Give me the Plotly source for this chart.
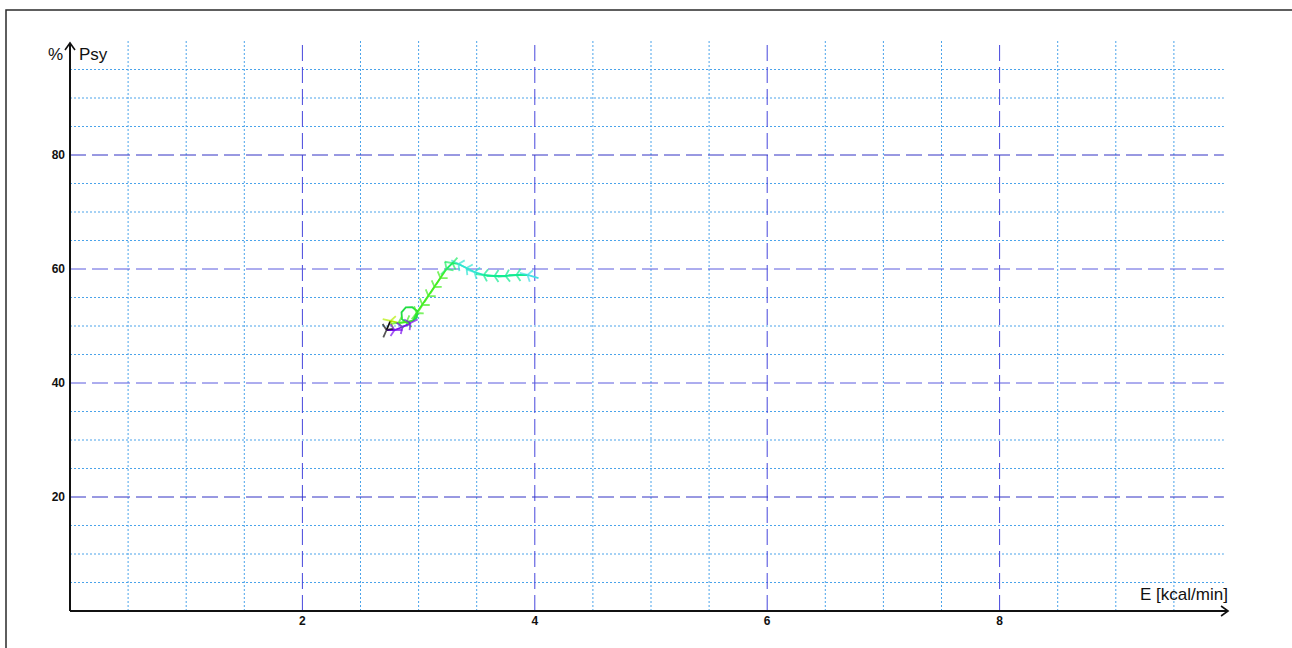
import plotly.graph_objects as go

# Trajectory of energy expenditure (E) versus psychological strain (Psy)
energy = [4.032, 3.937, 3.842, 3.748, 3.653, 3.559, 3.481, 3.412, 3.343, 3.292,
          3.240, 3.188, 3.137, 3.085, 3.034, 2.982,
          2.955, 2.900, 2.857, 2.853, 2.890, 2.945, 2.990, 2.985, 2.950,
          2.896, 2.827, 2.758, 2.724, 2.793, 2.861, 2.930]
psy = [58.42, 58.95, 58.95, 58.77, 58.77, 58.95, 59.47, 60.18, 60.88, 61.05,
       60.00, 58.42, 56.84, 55.26, 53.68, 52.28,
       51.00, 50.55, 51.20, 52.40, 53.25, 53.30, 52.60, 51.50, 50.90,
       50.70, 50.53, 50.88, 49.30, 49.30, 49.82, 50.53]
point_colors = ["#40dde6", "#40dde6", "#10ec92", "#10ec92", "#10ec92", "#10ec92",
                "#30e6d2", "#30e6d2", "#30e6d2", "#22ee66", "#22ee66", "#44ee22",
                "#44ee22", "#44ee22", "#44ee22", "#44ee22",
                "#22dd44", "#22dd44", "#22dd44", "#22dd44", "#22dd44", "#22dd44",
                "#22dd44", "#22dd44", "#22dd44",
                "#44ee22", "#44ee22", "#b4ee00", "#111111", "#7a10ee", "#7a10ee", "#7a10ee"]
arrow_sizes = [10, 10, 10, 10, 10, 10, 10, 10, 10, 10, 10, 10, 10, 10, 10, 10,
               0, 0, 0, 0, 0, 0, 0, 0, 0,
               10, 10, 10, 10, 10, 10, 10]

x_ticks = [2, 4, 6, 8]
y_ticks = [20, 40, 60, 80]
y_major_colors = ["#3232c4", "#5a5ade", "#5a5ade", "#3232c4"]
x_minor = [0.5, 1, 1.5, 2.5, 3, 3.5, 4.5, 5, 5.5, 6.5, 7, 7.5, 8.5, 9, 9.5]
y_minor = [5, 10, 15, 25, 30, 35, 45, 50, 55, 65, 70, 75, 85, 90, 95]

X_MAX, Y_MAX = 10, 100
GRID_END = 9.93

fig = go.Figure()

# Line segments, grouped by colour
segments = []
cur_color = point_colors[1]
cur = [0, 1]
for i in range(2, len(energy)):
    if point_colors[i] == cur_color:
        cur.append(i)
    else:
        segments.append((cur_color, cur))
        cur_color = point_colors[i]
        cur = [i - 1, i]
segments.append((cur_color, cur))

for color, idx in segments:
    fig.add_trace(go.Scatter(
        x=[energy[k] for k in idx], y=[psy[k] for k in idx],
        mode="lines", line=dict(color=color, width=1.8),
        hoverinfo="skip", showlegend=False))

# Direction chevrons along the path
fig.add_trace(go.Scatter(
    x=energy, y=psy, mode="markers",
    marker=dict(symbol="y-up", size=arrow_sizes, angleref="previous",
                color=point_colors,
                line=dict(color=point_colors, width=1.8)),
    hoverinfo="skip", showlegend=False))

shapes = []
minor_style = dict(color="#4aa3ea", width=1, dash="2px,2px")
for xv in x_minor:
    shapes.append(dict(type="line", xref="x", yref="y", x0=xv, x1=xv, y0=0, y1=Y_MAX,
                       line=minor_style, layer="below"))
for yv in y_minor:
    shapes.append(dict(type="line", xref="x", yref="y", x0=0, x1=GRID_END, y0=yv, y1=yv,
                       line=minor_style, layer="below"))
for xv in x_ticks:
    shapes.append(dict(type="line", xref="x", yref="y", x0=xv, x1=xv, y0=0, y1=Y_MAX,
                       line=dict(color="#4646dc", width=1, dash="16px,6px"), layer="below"))
for yv, col in zip(y_ticks, y_major_colors):
    shapes.append(dict(type="line", xref="x", yref="y", x0=0, x1=GRID_END, y0=yv, y1=yv,
                       line=dict(color=col, width=1, dash="16px,6px"), layer="below"))

# Axes with arrow heads (paper coordinates: 1162 px wide, 570 px tall)
axis_line = dict(color="#111111", width=2)
x_tip, y_tip = 0.9966, 0.9965
shapes.append(dict(type="line", xref="paper", yref="paper", x0=0, x1=x_tip, y0=0, y1=0, line=axis_line))
shapes.append(dict(type="line", xref="paper", yref="paper", x0=0, x1=0, y0=0, y1=y_tip, line=axis_line))
ax_dx, ax_dy = 7 / 1162, 5 / 570
shapes.append(dict(type="path", xref="paper", yref="paper",
                   path=f"M {x_tip - ax_dx},{ax_dy} L {x_tip},0 L {x_tip - ax_dx},{-ax_dy}",
                   line=dict(color="#111111", width=1.6)))
ay_dx, ay_dy = 5 / 1162, 7 / 570
shapes.append(dict(type="path", xref="paper", yref="paper",
                   path=f"M {-ay_dx},{y_tip - ay_dy} L 0,{y_tip} L {ay_dx},{y_tip - ay_dy}",
                   line=dict(color="#111111", width=1.6)))

# Outer frame
shapes.append(dict(type="rect", xref="paper", yref="paper",
                   x0=(6 - 70) / 1162, x1=1.2, y0=-0.3, y1=(611 - 10) / 570,
                   line=dict(color="#2a2a2a", width=1.5)))

label_font = dict(family="Liberation Sans, Arial, sans-serif", size=17, color="#111111")
annotations = [
    dict(text="%", xref="paper", yref="paper", x=(55 - 70) / 1162, y=(611 - 55) / 570,
         xanchor="center", yanchor="middle", showarrow=False, font=label_font),
    dict(text="Psy", xref="paper", yref="paper", x=(77 - 70) / 1162, y=(611 - 55) / 570,
         xanchor="left", yanchor="middle", showarrow=False, font=label_font),
    dict(text="E [kcal/min]", xref="paper", yref="paper", x=x_tip + 2 / 1162, y=(611 - 594) / 570,
         xanchor="right", yanchor="middle", showarrow=False, font=label_font),
]

tick_font = dict(family="Liberation Sans, Arial, sans-serif", size=12, color="#111111", weight="bold")
fig.update_layout(
    width=1292, height=648,
    margin=dict(l=70, r=60, t=41, b=37),
    paper_bgcolor="white", plot_bgcolor="white",
    xaxis=dict(range=[0, X_MAX], tickvals=x_ticks, ticktext=[str(v) for v in x_ticks],
               showgrid=False, zeroline=False, showline=False, ticks="",
               tickfont=tick_font, ticklabelstandoff=1, fixedrange=True),
    yaxis=dict(range=[0, Y_MAX], tickvals=y_ticks, ticktext=[str(v) for v in y_ticks],
               showgrid=False, zeroline=False, showline=False, ticks="",
               tickfont=tick_font, ticklabelstandoff=4, fixedrange=True),
    shapes=shapes, annotations=annotations,
)

fig.write_html("out.html")
